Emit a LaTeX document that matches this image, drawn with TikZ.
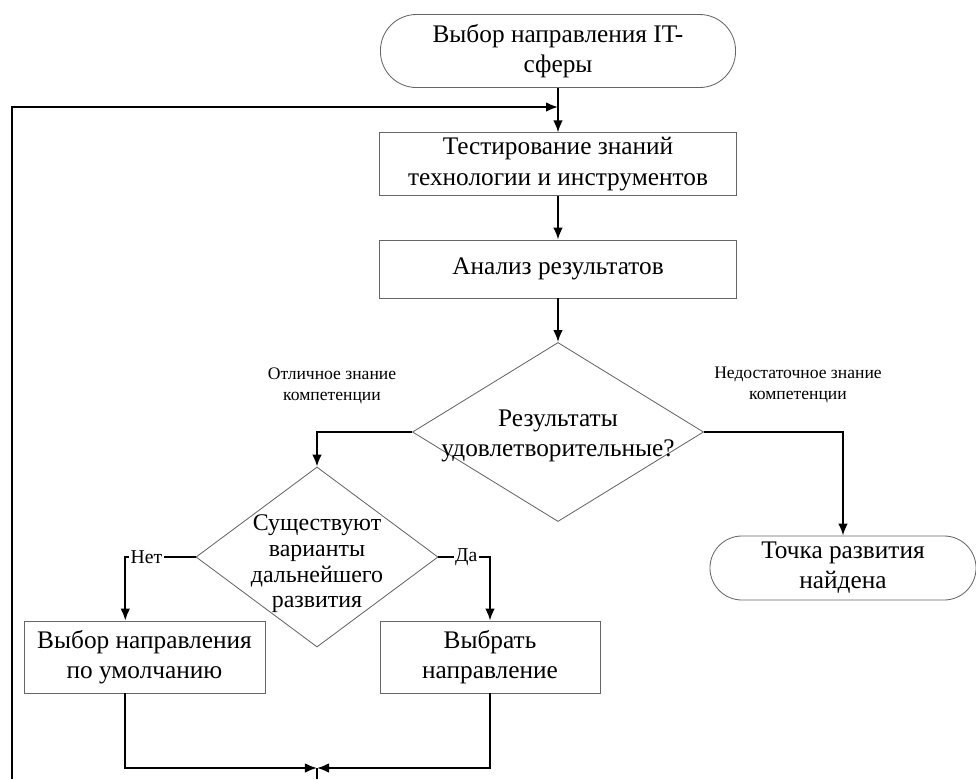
\documentclass[tikz,border=0pt]{standalone}
\usepackage{fontspec}
\setmainfont{Liberation Serif}
\usetikzlibrary{shapes.geometric,arrows.meta}

\begin{document}
\begin{tikzpicture}[x=0.025cm,y=-0.025cm,-,>={Latex[length=3mm,width=2.4mm]},line width=1.3pt,
    main node/.style={rectangle,draw=black!60,line width=0.6pt,font=\fontsize{18}{21.5}\selectfont,align=center,minimum width=8.925cm,minimum height=1.45cm},
    end node/.style={main node,rounded corners=0.9cm},
    test node/.style={diamond,draw=black!60,line width=0.6pt,inner sep=0pt},
    test text/.style={font=\fontsize{18}{21.5}\selectfont,align=center},
    note/.style={font=\fontsize{12.5}{15}\selectfont,align=center},
    branch/.style={font=\fontsize{14}{15}\selectfont,fill=white,inner sep=1pt},
    hv/.style={to path={-| (\tikztotarget) \tikztonodes}},
    vh/.style={to path={|- (\tikztotarget) \tikztonodes}}]
            \useasboundingbox (0,0) rectangle (976,779);

            \node[end node,minimum width=8.875cm,minimum height=1.825cm] (1) at (558,51) {Выбор направления IT-\\сферы};
            \node[main node] (2) at (558,164) {Тестирование знаний\\технологии и инструментов};
            \node[main node] (3) at (558,269) {Анализ результатов};

            \node[test node,minimum width=7.275cm,minimum height=4.475cm] (4) at (558,432) {};
            \node[test text] (4t) at (558,436) {Результаты\\удовлетворительные?};

            \node[test node,minimum width=6.05cm,minimum height=4.5cm] (5) at (317,557) {};
            \node[test text,font=\fontsize{17}{18.3}\selectfont] (5t) at (317,564) {Существуют\\варианты\\дальнейшего\\развития};

            \node[end node,minimum width=6.65cm,minimum height=1.6cm,rounded corners=0.8cm] (6) at (843,568) {Точка развития\\найдена};
            \node[main node,minimum width=6.025cm,minimum height=1.8cm] (7) at (144.5,657) {Выбор направления\\по умолчанию};
            \node[main node,minimum width=5.5cm,minimum height=1.8cm] (8) at (490,657) {Выбрать\\направление};

            \node[note] (13) at (332,386) {Отличное знание\\компетенции};
            \node[note] (14) at (798,385) {Недостаточное знание\\компетенции};

            \coordinate (9) at (317,768);
            \coordinate (10) at (12,779);
            \coordinate (11) at (558,107);
            \coordinate (12) at (317,779);

            \path[->]
                (1) edge (2)
                (2) edge (3)
                (3) edge (4)

                (4) edge[hv] (5)
                (4) edge[hv] (6)

                (5) edge[hv] node[branch,pos=0.35]{Нет} ([xshift=-0.48cm]7.north)
                (5) edge[hv] node[branch,pos=0.27]{Да} (8)

                ([xshift=-0.48cm]7.south) edge[vh] (9)
                (8) edge[vh] (9)
                (9) edge[-] (12)

                (10) edge[vh] (11)
            ;
        \end{tikzpicture}
\end{document}
